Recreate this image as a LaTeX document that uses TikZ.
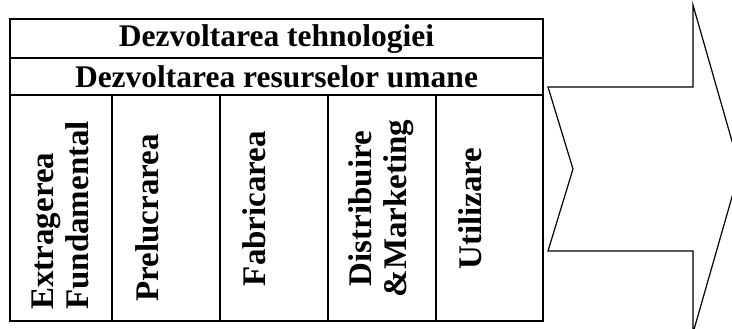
\documentclass[tikz,border=0pt]{standalone}
\usepackage{fontspec}
\setmainfont{Liberation Serif}
\begin{document}
\begin{tikzpicture}[x=1pt,y=-1pt,
  grid/.style={line width=1.8pt, line cap=rect},
  title/.style={font=\fontsize{31.5}{34}\selectfont\bfseries, inner sep=0pt},
  vtext/.style={font=\fontsize{33}{35}\selectfont\bfseries, inner sep=0pt, rotate=90, anchor=north, align=center},
  bigarrow/.style={line width=1.2pt, line join=miter, fill=white}]
\clip (0,0) rectangle (732,329);
\fill[white] (0,0) rectangle (732,329);
% table
\draw[grid] (10,19) rectangle (543,321);
\draw[grid] (10,58) -- (543,58);
\draw[grid] (10,95) -- (543,95);
\foreach \x in {112,220,328,436} \draw[grid] (\x,95) -- (\x,321);
\node[title] (t1) at (276.5,39) {Dezvoltarea tehnologiei};
\node[title] (t2) at (276.5,77) {Dezvoltarea resurselor umane};
\node[vtext, anchor=north west, align=left] (c1) at (32,310) {Extragerea\\Fundamental};
\node[vtext] (c2) at (135,218) {Prelucrarea};
\node[vtext] (c3) at (242,208.5) {Fabricarea};
\node[vtext] (c4) at (348,208.5) {Distribuire\\\&Marketing};
\node[vtext] (c5) at (458,208.5) {Utilizare};
% arrow
\draw[bigarrow] (548,87) -- (693,87) -- (693,5) -- (740,169) -- (693,333) -- (693,251) -- (548,251) -- (573,169) -- cycle;
\end{tikzpicture}
\end{document}
